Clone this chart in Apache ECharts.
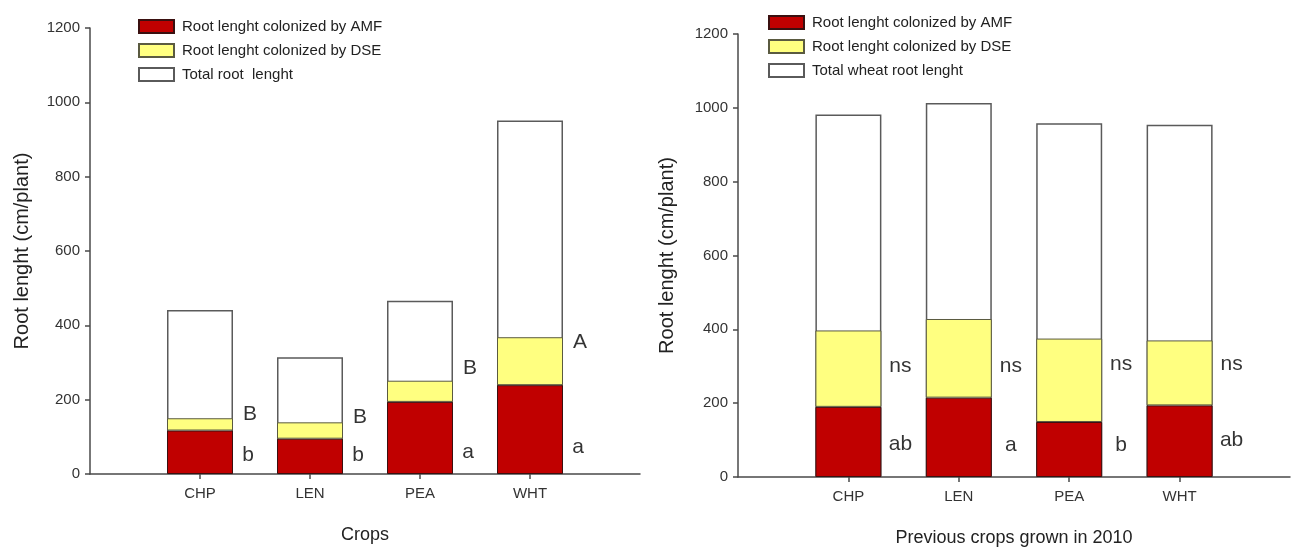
<!DOCTYPE html>
<html>
<head>
<meta charset="utf-8">
<script src="https://cdn.jsdelivr.net/npm/echarts@6/dist/echarts.min.js"></script>
<style>
html,body{margin:0;padding:0;background:#fff;}
#chart{width:1293px;height:552px;}
</style>
</head>
<body>
<div id="chart"></div>
<script>
// ---- data ----
const categories = ['CHP', 'LEN', 'PEA', 'WHT'];
const leftAMF = [117, 95, 194, 239];
const leftDSE = [33, 44, 57, 129];
const leftTotal = [441, 314, 466, 951];
const rightAMF = [190, 215, 149, 194];
const rightDSE = [207, 213, 226, 176];
const rightTotal = [982, 1013, 958, 954];
const yMin = 0, yMax = 1200, yStep = 200;

const leftLowerLetters = ['b', 'b', 'a', 'a'];
const leftLowerAt = [51, 51, 59, 73];
const leftUpperLetters = ['B', 'B', 'B', 'A'];
const leftUpperAt = [160, 153, 285, 355];
const rightUpperLetters = ['ns', 'ns', 'ns', 'ns'];
const rightUpperAt = [300, 300, 305, 305];
const rightLowerLetters = ['ab', 'a', 'b', 'ab'];
const rightLowerAt = [88, 86, 86, 100];

const nameAMF = 'Root lenght colonized by AMF';
const nameDSE = 'Root lenght colonized by DSE';
const nameTotL = 'Total root  lenght';
const nameTotR = 'Total wheat root lenght';
const xTitleL = 'Crops';
const xTitleR = 'Previous crops grown in 2010';
const yTitle = 'Root lenght (cm/plant)';

// ---- helpers ----
const FONT = 'Liberation Sans, Arial, sans-serif';
const axisCats = [''].concat(categories, ['']);
const pad = arr => ['-'].concat(arr, ['-']);
const AXC = '#4a4a4a';

function xAxis(gi, title) {
  return {
    type: 'category', gridIndex: gi, data: axisCats, boundaryGap: false,
    name: title, nameLocation: 'middle', nameGap: 52,
    nameTextStyle: {fontFamily: FONT, fontSize: 18, color: '#222'},
    axisLine: {lineStyle: {color: AXC, width: 1.5}},
    axisTick: {show: true, length: 5, inside: false, lineStyle: {color: AXC, width: 1.5},
      interval: (i, v) => v !== ''},
    axisLabel: {fontFamily: FONT, fontSize: 15, color: '#333', margin: 12,
      interval: 0},
    splitLine: {show: false}
  };
}
function yAxis(gi, gap) {
  return {
    type: 'value', gridIndex: gi, min: yMin, max: yMax, interval: yStep,
    name: yTitle, nameLocation: 'middle', nameGap: gap, nameRotate: 90,
    nameTextStyle: {fontFamily: FONT, fontSize: 20, color: '#222'},
    axisLine: {show: true, lineStyle: {color: AXC, width: 1.5}},
    axisTick: {show: true, length: 5, lineStyle: {color: AXC, width: 1.5}},
    axisLabel: {fontFamily: FONT, fontSize: 15, color: '#333', margin: 10,
      formatter: v => String(v)},
    splitLine: {show: false}
  };
}
function bars(gi, amf, dse, tot, totName) {
  return [
    {type: 'bar', name: totName, xAxisIndex: gi, yAxisIndex: gi, data: pad(tot),
      barWidth: 66, barGap: '-100%',
      itemStyle: {color: '#ffffff', borderColor: '#5a5a5a', borderWidth: 1.5}},
    {type: 'bar', name: nameAMF, xAxisIndex: gi, yAxisIndex: gi, data: pad(amf),
      stack: 's' + gi, barWidth: 66, barGap: '-100%',
      itemStyle: {color: '#c00000', borderColor: '#3a1010', borderWidth: 1}},
    {type: 'bar', name: nameDSE, xAxisIndex: gi, yAxisIndex: gi, data: pad(dse),
      stack: 's' + gi, barWidth: 66, barGap: '-100%',
      itemStyle: {color: '#ffff80', borderColor: '#5a5a40', borderWidth: 1}}
  ];
}
function letters(gi, txt, at, dx) {
  return {
    type: 'scatter', xAxisIndex: gi, yAxisIndex: gi, symbolSize: 0, silent: true,
    data: categories.map((c, i) => ({value: [c, at[i]], name: txt[i]})),
    label: {show: true, position: 'inside', offset: [dx, 0],
      formatter: p => p.name, fontFamily: FONT, fontSize: 21, color: '#000'},
    z: 10
  };
}
function legend(left, top, names) {
  return {
    orient: 'vertical', left: left, top: top, data: names,
    icon: 'rect', itemWidth: 35, itemHeight: 13, itemGap: 9,
    textStyle: {fontFamily: FONT, fontSize: 15, color: '#222', padding: [0, 0, 0, 3]},
    selectedMode: false
  };
}

const option = {
  backgroundColor: '#ffffff',
  animation: false,
  grid: [
    {left: 90, top: 28, width: 550, height: 446},
    {left: 738, top: 34, width: 552, height: 444}
  ],
  legend: [
    legend(133, 14, [nameAMF, nameDSE, nameTotL]),
    legend(763, 10, [nameAMF, nameDSE, nameTotR])
  ],
  xAxis: [xAxis(0, xTitleL), xAxis(1, xTitleR)],
  yAxis: [yAxis(0, 58), yAxis(1, 61)],
  series: [].concat(
    bars(0, leftAMF, leftDSE, leftTotal, nameTotL),
    bars(1, rightAMF, rightDSE, rightTotal, nameTotR),
    [letters(0, leftLowerLetters, leftLowerAt, 48),
     letters(0, leftUpperLetters, leftUpperAt, 50),
     letters(1, rightUpperLetters, rightUpperAt, 52),
     letters(1, rightLowerLetters, rightLowerAt, 52)]
  )
};

const chart = echarts.init(document.getElementById('chart'), null, {renderer: 'canvas'});
chart.setOption(option);
</script>
</body>
</html>
